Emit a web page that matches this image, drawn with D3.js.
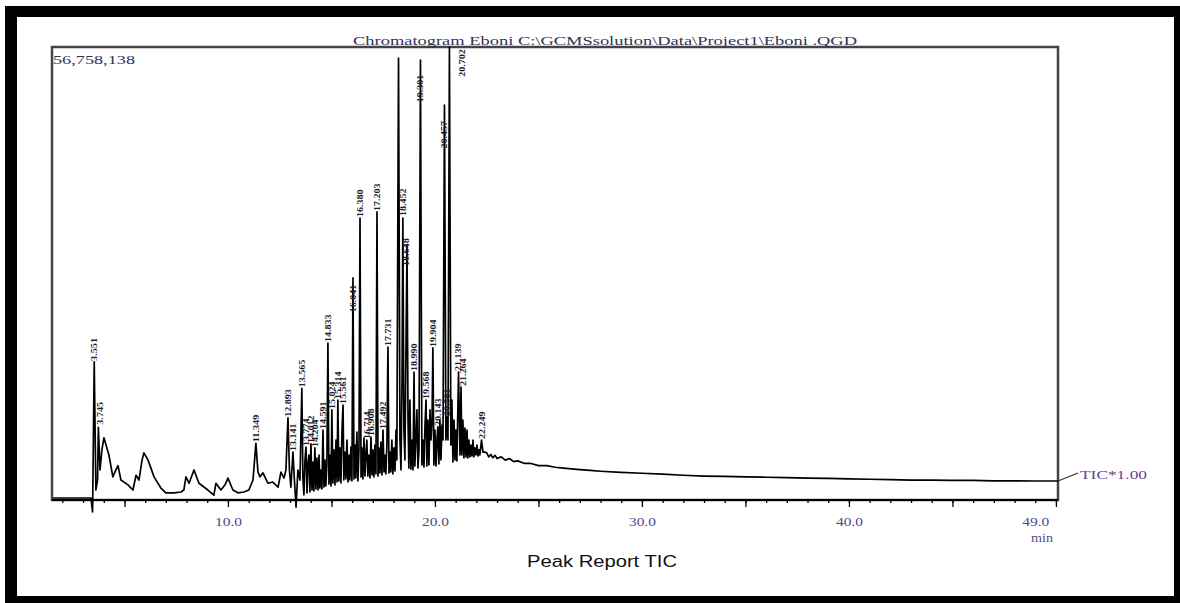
<!DOCTYPE html>
<html>
<head>
<meta charset="utf-8">
<script src="https://cdn.jsdelivr.net/npm/d3@7"></script>
<style>
html, body { margin: 0; padding: 0; background: #fff; }
svg { display: block; }
</style>
</head>
<body>
<div id="chart"></div>
<script>
// retention time (min), TIC intensity (millions of counts)
var maxTIC = 56758138;

var earlyTrace = [
  [1.55,0.25],[3.38,0.25],[3.46,-1.5],[3.54,17.3],[3.62,1.25],[3.70,2.5],[3.74,9.1],[3.82,3.76],
  [3.91,6.27],[4.01,7.8],[4.11,6.9],[4.25,5.64],[4.44,2.9],[4.59,3.8],[4.69,4.3],[4.83,2.5],
  [5.17,1.9],[5.41,1.25],[5.56,3.1],[5.70,2.5],[5.85,5.0],[5.94,5.9],[6.14,5.0],[6.43,2.9],
  [6.76,1.5],[7.00,0.9],[7.39,0.9],[7.73,1.0],[7.87,1.25],[7.97,2.9],[8.12,2.1],[8.36,3.76],
  [8.60,2.1],[9.03,1.25],[9.32,0.6],[9.42,2.1],[9.66,1.25],[9.86,1.9],[10.0,2.75],[10.24,1.25],
  [10.48,0.9],[10.77,1.0],[11.01,1.25],[11.21,2.5],[11.35,7.1],[11.45,3.5],[11.55,2.9],[11.69,3.4],
  [11.93,2.1],[12.17,2.25],[12.42,1.6],[12.56,3.5],[12.71,2.75],[12.80,3.76],[12.90,10.3],[12.97,3.76],
  [13.04,1.6],[13.14,6.0],[13.21,2.5],[13.29,-0.9],[13.38,3.76],[13.48,2.5],[13.57,14.0],[13.62,2.75]
];

var peakTrace = [
  [13.67,0.63],[13.72,5.01],[13.77,6.64],[13.82,0.88],[13.86,4.39],[13.91,5.64],[13.96,1.0],[14.01,7.02],
  [14.06,1.25],[14.11,4.76],[14.15,1.13],[14.20,6.52],[14.25,1.38],[14.30,5.26],[14.35,1.25],[14.40,5.64],
  [14.44,1.5],[14.49,3.76],[14.54,1.38],[14.59,8.77],[14.64,1.63],[14.69,5.01],[14.73,1.75],[14.78,4.39],
  [14.83,19.67],[14.88,2.0],[14.93,5.64],[14.98,1.75],[15.02,11.28],[15.07,2.13],[15.12,6.27],[15.17,1.88],
  [15.22,7.52],[15.27,2.26],[15.31,12.53],[15.36,2.38],[15.41,6.52],[15.46,2.13],[15.51,8.77],[15.56,11.9],
  [15.60,2.51],[15.65,6.01],[15.70,2.63],[15.75,7.52],[15.80,2.26],[15.85,5.64],[15.89,2.51],[15.94,6.64],
  [15.99,2.38],[16.04,27.82],[16.09,2.63],[16.14,6.89],[16.18,2.76],[16.23,8.52],[16.28,2.38],[16.33,6.27],
  [16.38,35.33],[16.43,2.88],[16.47,6.52],[16.52,2.63],[16.57,7.77],[16.62,3.0],[16.67,6.01],[16.71,7.52],
  [16.76,3.0],[16.81,5.64],[16.86,2.76],[16.91,7.89],[16.96,3.13],[17.00,6.27],[17.05,2.88],[17.10,6.89],
  [17.15,3.26],[17.20,36.09],[17.25,3.0],[17.29,6.52],[17.34,3.38],[17.39,7.27],[17.44,3.13],[17.49,8.77],
  [17.54,3.51],[17.58,5.64],[17.63,3.26],[17.68,6.89],[17.73,19.17],[17.78,3.38],[17.83,6.01],[17.87,3.51],
  [17.92,7.52],[17.97,3.26],[18.02,6.52],[18.07,3.63],[18.12,8.77],[18.16,5.01],[18.24,55.38],[18.31,7.52],
  [18.36,3.76],[18.41,15.04],[18.45,35.33],[18.50,8.77],[18.55,5.01],[18.60,18.8],[18.65,31.95],[18.70,10.02],
  [18.74,4.0],[18.79,12.53],[18.84,3.88],[18.89,7.52],[18.94,3.76],[18.99,16.04],[19.03,4.26],[19.08,7.52],
  [19.13,11.28],[19.18,4.0],[19.23,6.27],[19.30,55.13],[19.37,4.39],[19.42,7.52],[19.47,4.13],[19.52,9.4],
  [19.57,12.53],[19.61,4.26],[19.66,10.02],[19.71,4.39],[19.76,11.28],[19.81,7.52],[19.86,10.02],[19.90,19.05],
  [19.95,4.39],[20.00,8.77],[20.05,4.26],[20.10,7.52],[20.14,9.15],[20.19,4.51],[20.24,10.02],[20.29,5.01],
  [20.34,9.4],[20.39,7.52],[20.46,49.49],[20.53,7.52],[20.58,10.4],[20.63,7.52],[20.70,56.76],[20.77,6.89],
  [20.82,12.53],[20.87,4.76],[20.92,10.02],[20.97,5.01],[21.01,8.77],[21.06,4.89],[21.14,16.04],[21.21,5.64],
  [21.26,14.16],[21.30,5.64],[21.35,10.02],[21.40,5.26],[21.45,9.02],[21.50,5.39],[21.55,8.77],[21.59,5.26],
  [21.64,7.52],[21.69,5.39],[21.74,6.89],[21.79,5.51],[21.84,7.52],[21.88,5.39],[21.93,6.52],[21.98,5.64],
  [22.03,6.89],[22.08,5.51],[22.13,6.27],[22.17,5.64],[22.25,7.52],[22.32,6.01],[22.42,6.01]
];

var tailTrace = [
  [22.5,5.9],[22.6,5.4],[22.7,5.7],[22.8,5.3],[22.9,5.6],[23.0,5.2],[23.2,5.4],[23.4,5.0],[23.6,5.2],
  [23.8,4.8],[24.0,4.9],[24.3,4.6],[24.6,4.6],[25.0,4.3],[25.4,4.3],[25.8,4.1],[26.2,4.0],[26.6,3.9],
  [27.0,3.8],[27.5,3.7],[28.0,3.6],[29.0,3.45],[30.0,3.35],[31.0,3.25],[32.0,3.1],[33.0,3.0],[34.0,2.95],
  [35.0,2.9],[36.0,2.85],[37.0,2.8],[38.0,2.75],[39.0,2.7],[40.0,2.65],[41.0,2.6],[42.0,2.55],[43.0,2.5],
  [44.0,2.5],[45.0,2.45],[46.0,2.45],[47.0,2.4],[48.0,2.4],[49.0,2.38],[50.1,2.38]
];

var labelText  = ['3.551','3.745','11.349','12.893','13.141','13.565','13.774','14.012','14.204','14.591',
                  '14.833','15.024','15.314','15.561','16.041','16.380','16.714','16.908','17.203','17.492',
                  '17.731','18.452','18.648','18.990','19.301','19.568','19.904','20.143','20.457','20.581',
                  '20.702','21.139','21.264','22.249'];
var labelTime  = [3.54,3.80,11.35,12.90,13.14,13.57,13.77,14.01,14.20,14.59,
                  14.83,15.02,15.31,15.56,16.04,16.38,16.71,16.91,17.20,17.49,
                  17.73,18.45,18.60,18.99,19.28,19.57,19.90,20.14,20.46,20.58,
                  21.30,21.12,21.35,22.25];
var labelLevel = [17.3,9.3,7.1,10.3,6.0,14.0,6.64,7.02,6.52,8.77,
                  19.67,11.28,12.53,11.9,23.4,35.33,7.52,7.89,36.09,8.77,
                  19.17,35.46,29.2,16.04,49.7,12.53,19.05,9.15,43.9,10.4,
                  52.9,16.04,14.16,7.52];

var xTickLabels = [10, 20, 30, 40, 49];
var titleText = 'Chromatogram Eboni C:\\GCMSsolution\\Data\\Project1\\Eboni .QGD';

var width = 1180, height = 603;
var svg = d3.select('#chart').append('svg')
            .attr('width', width)
            .attr('height', height);

var x = d3.scaleLinear().domain([1.5, 50.1]).range([52, 1058]);
var y = d3.scaleLinear().domain([0, maxTIC / 1e6]).range([500, 47]);

// ************ outer black frame ************
svg.append('rect').attr('x', 5).attr('y', 6).attr('width', 1175).attr('height', 11).style('fill', '#000');
svg.append('rect').attr('x', 5).attr('y', 6).attr('width', 12).attr('height', 597).style('fill', '#000');
svg.append('rect').attr('x', 1174).attr('y', 6).attr('width', 6).attr('height', 597).style('fill', '#000');
svg.append('rect').attr('x', 5).attr('y', 596).attr('width', 1175).attr('height', 7).style('fill', '#000');

// ************ plot box ************
svg.append('rect')
   .attr('x', x.range()[0])
   .attr('y', y.range()[1])
   .attr('width', x.range()[1] - x.range()[0])
   .attr('height', y.range()[0] - y.range()[1])
   .style('fill', 'none')
   .style('stroke', '#444')
   .style('stroke-width', 2.5);

// ************ x axis ************
var minorAxis = d3.axisBottom(x).tickValues(d3.range(2, 51)).tickSize(3).tickFormat('');
var majorAxis = d3.axisBottom(x).tickValues(d3.range(5, 51, 5)).tickSize(7).tickFormat('');
var labelAxis = d3.axisBottom(x).tickValues(xTickLabels).tickSize(0).tickPadding(17)
                  .tickFormat(d3.format('.1f'));

[minorAxis, majorAxis].forEach(function(ax) {
  var g = svg.append('g').attr('transform', 'translate(0,' + y.range()[0] + ')').call(ax);
  g.select('.domain').remove();
  g.selectAll('line').style('stroke', '#000').style('stroke-width', 1.3);
});

var gl = svg.append('g').attr('transform', 'translate(0,' + y.range()[0] + ')').call(labelAxis);
gl.select('.domain').remove();
gl.selectAll('text')
  .attr('textLength', 27)
  .attr('lengthAdjust', 'spacingAndGlyphs')
  .style('font-family', 'Liberation Serif')
  .style('font-size', '12px')
  .style('fill', '#4a4a8a');

svg.append('line')
   .attr('x1', x.range()[0]).attr('x2', x.range()[1])
   .attr('y1', y.range()[0]).attr('y2', y.range()[0])
   .style('stroke', '#000').style('stroke-width', 2.2);

// ************ trace ************
var trace = earlyTrace.concat(peakTrace, tailTrace);
var line = d3.line()
             .x(function(d) { return x(d[0]); })
             .y(function(d) { return y(d[1]); });

svg.append('path')
   .datum(trace)
   .attr('d', line)
   .style('fill', 'none')
   .style('stroke', '#000')
   .style('stroke-width', 1.7)
   .style('stroke-linejoin', 'round');

// ************ peak labels ************
svg.append('g').selectAll('text')
   .data(labelText)
   .join('text')
   .attr('transform', function(d, i) {
     return 'translate(' + x(labelTime[i]) + ',' + (y(labelLevel[i]) - 1) + ') rotate(-90)';
   })
   .attr('dy', '0.35em')
   .attr('textLength', function(d) { return d.length * 4.6; })
   .attr('lengthAdjust', 'spacingAndGlyphs')
   .style('font-family', 'Liberation Serif')
   .style('font-weight', 'bold')
   .style('font-size', '8.5px')
   .style('fill', '#1a1a2a')
   .text(function(d) { return d; });

// ************ texts ************
svg.append('text')
   .attr('x', 605).attr('y', 45)
   .attr('text-anchor', 'middle')
   .attr('textLength', 504)
   .attr('lengthAdjust', 'spacingAndGlyphs')
   .style('font-family', 'Liberation Serif')
   .style('font-size', '13px')
   .style('fill', '#333355')
   .text(titleText);

svg.append('text')
   .attr('x', 53).attr('y', 64)
   .attr('textLength', 82)
   .attr('lengthAdjust', 'spacingAndGlyphs')
   .style('font-family', 'Liberation Serif')
   .style('font-size', '13px')
   .style('fill', '#333355')
   .text(d3.format(',')(maxTIC));

svg.append('text')
   .attr('x', 1053).attr('y', 542)
   .attr('text-anchor', 'end')
   .attr('textLength', 22)
   .attr('lengthAdjust', 'spacingAndGlyphs')
   .style('font-family', 'Liberation Serif')
   .style('font-size', '12px')
   .style('fill', '#5a4a8a')
   .text('min');

svg.append('text')
   .attr('x', 602).attr('y', 567)
   .attr('text-anchor', 'middle')
   .attr('textLength', 150)
   .attr('lengthAdjust', 'spacingAndGlyphs')
   .style('font-family', 'Liberation Sans')
   .style('font-size', '16px')
   .style('fill', '#111')
   .text('Peak Report TIC');

var lastPt = tailTrace[tailTrace.length - 1];
svg.append('line')
   .attr('x1', x(lastPt[0])).attr('y1', y(lastPt[1]))
   .attr('x2', 1078).attr('y2', 473)
   .style('stroke', '#333').style('stroke-width', 1.2);

svg.append('text')
   .attr('x', 1080).attr('y', 479)
   .attr('textLength', 67)
   .attr('lengthAdjust', 'spacingAndGlyphs')
   .style('font-family', 'Liberation Serif')
   .style('font-size', '13px')
   .style('fill', '#6a3f8f')
   .text('TIC*1.00');
</script>
</body>
</html>
